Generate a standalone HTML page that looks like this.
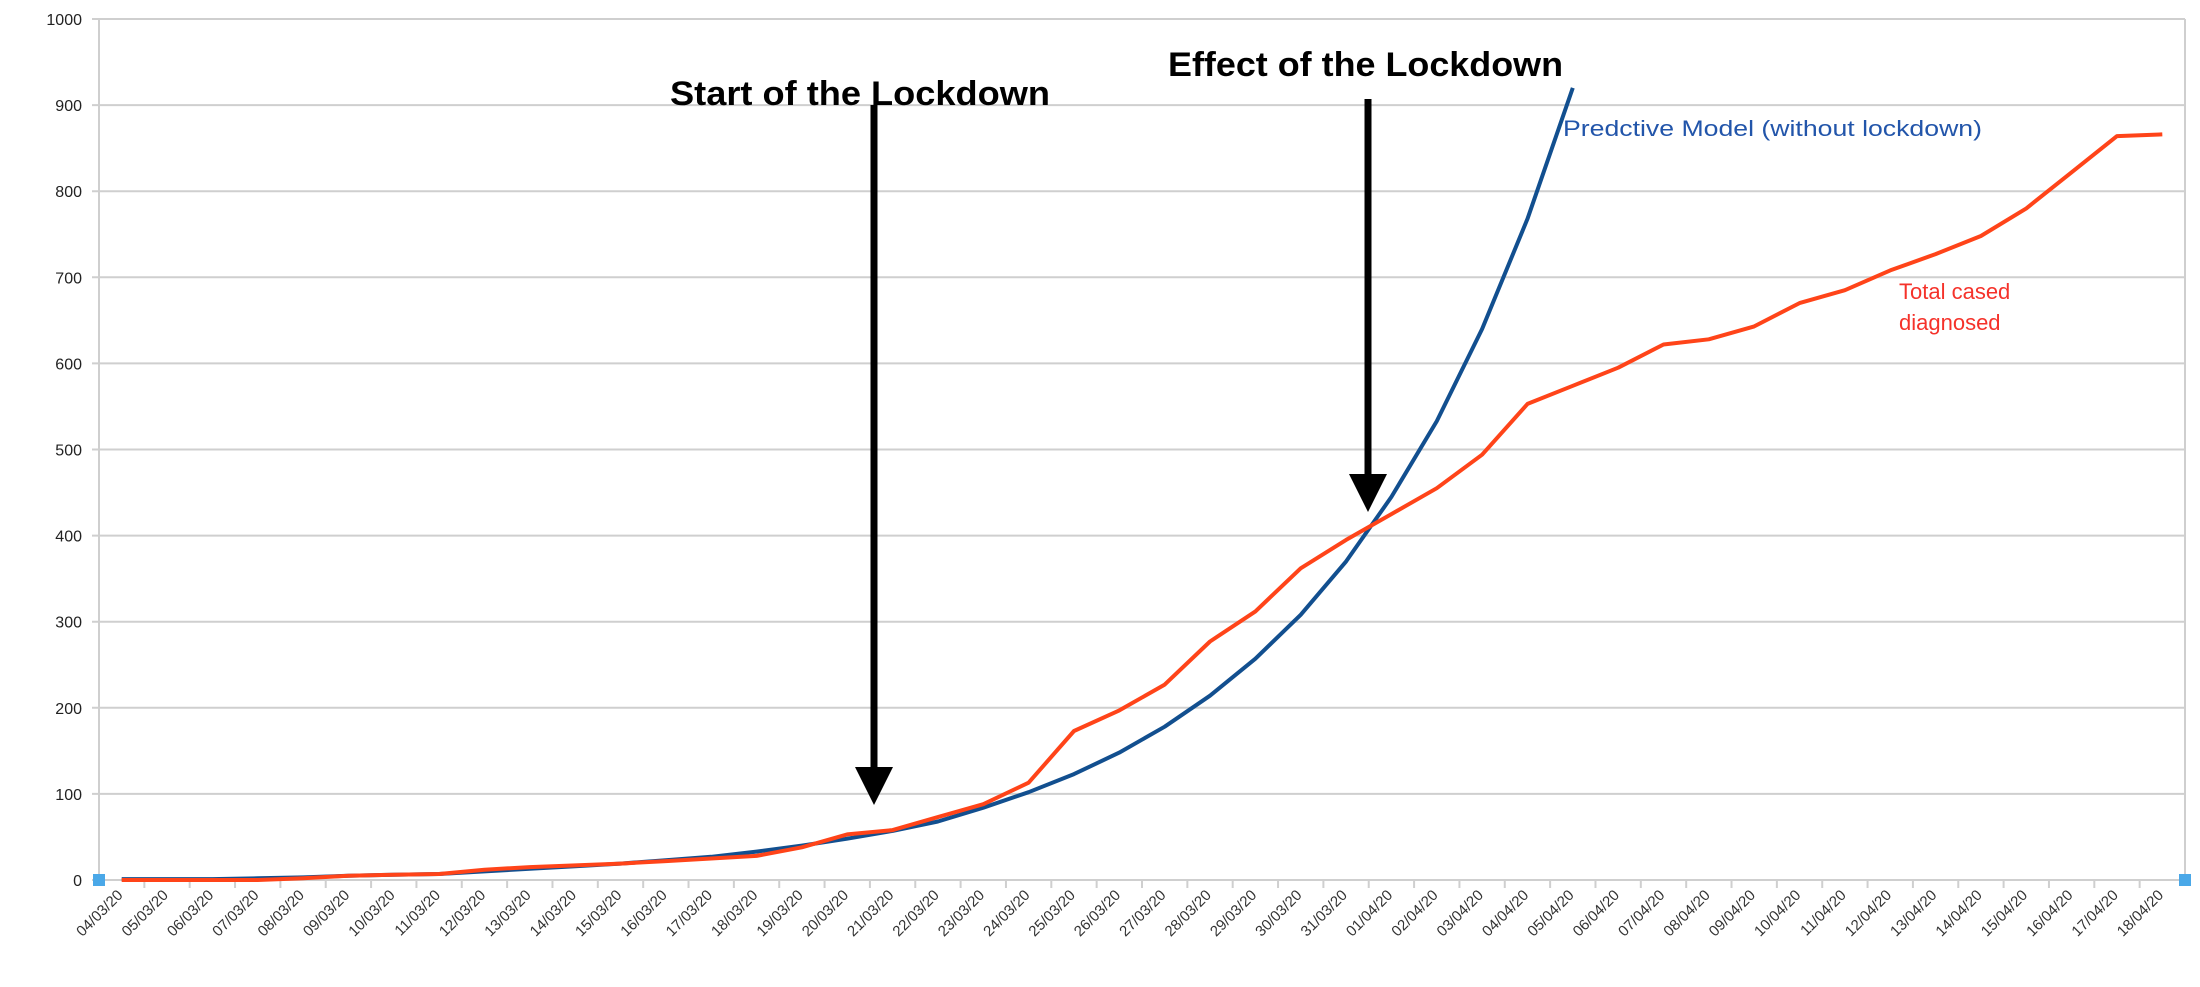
<!DOCTYPE html>
<html><head><meta charset="utf-8"><style>
html,body{margin:0;padding:0;background:#fff;}
svg{display:block;font-family:"Liberation Sans",Arial,sans-serif;}
</style></head><body>
<svg id="s" width="2200" height="987" viewBox="0 0 2200 987" xmlns="http://www.w3.org/2000/svg">
<g id="grid"></g>
<g id="xl" font-size="15" fill="#333"></g>
<g id="yl" font-size="16" fill="#222" text-anchor="end"></g>
<g id="series"></g>
<rect x="93" y="874" width="12" height="12" fill="#4aa8e8"/>
<rect x="2179" y="874" width="12" height="12" fill="#4aa8e8"/>
<text x="670" y="105" font-size="34" font-weight="bold" textLength="380" lengthAdjust="spacingAndGlyphs">Start of the Lockdown</text>
<text x="1168" y="76" font-size="34" font-weight="bold" textLength="395" lengthAdjust="spacingAndGlyphs">Effect of the Lockdown</text>
<rect x="870.5" y="105" width="7" height="665" fill="#000"/>
<polygon points="855,767 893,767 874,805" fill="#000"/>
<rect x="1364.5" y="99" width="7" height="378" fill="#000"/>
<polygon points="1349,474 1387,474 1368,512" fill="#000"/>
<text x="1563" y="136" font-size="22" fill="#2255aa" textLength="419" lengthAdjust="spacingAndGlyphs">Predctive Model (without lockdown)</text>
<text x="1899" y="299" font-size="22" fill="#f5322a">Total cased</text>
<text x="1899" y="330" font-size="22" fill="#f5322a">diagnosed</text>
</svg>
<script>
var NS="http://www.w3.org/2000/svg";
function el(p,t,a,txt){var e=document.createElementNS(NS,t);for(var k in a)e.setAttribute(k,a[k]);if(txt!==undefined)e.textContent=txt;p.appendChild(e);return e;}
var L=99,R=2185,Y0=880,Y1=19,N=46,W=(R-L)/N;
function X(i){return L+W*(i+0.5);}function Y(v){return Y0-(Y0-Y1)*v/1000;}
var g=document.getElementById('grid');
for(var v=0;v<=1000;v+=100){el(g,'line',{x1:L-7,x2:R,y1:Y(v),y2:Y(v),stroke:'#cfcfcf','stroke-width':2});
el(document.getElementById('yl'),'text',{x:82,y:Y(v)+6},String(v));}
el(g,'line',{x1:L,x2:L,y1:Y1,y2:Y0,stroke:'#cfcfcf','stroke-width':2});
el(g,'line',{x1:R,x2:R,y1:Y1,y2:Y0,stroke:'#cfcfcf','stroke-width':2});
for(var i=1;i<N;i++){var x=L+W*i;el(g,'line',{x1:x,x2:x,y1:Y0,y2:Y0+8,stroke:'#cfcfcf','stroke-width':2});}
var xl=document.getElementById('xl');
for(var i=0;i<N;i++){var d,m;if(i<28){d=i+4;m='03';}else{d=i-27;m='04';}
var s=(d<10?'0':'')+d+'/'+m+'/20';var cx=X(i)+2,cy=896;
el(xl,'text',{x:cx,y:cy,'text-anchor':'end',transform:'rotate(-45 '+cx+' '+cy+')'},s);}
var red=[0,0,0,0,2,5,6,7,12,15,17,19,22,25,28,38,53,58,73,88,113,173,197,227,277,312,362,395,425,455,494,553,574,595,622,628,643,670,685,708,727,748,780,822,864,866];
var blue=[1,1,1,2,3,5,6,7,10,13,16,19,23,27,33,40,48,57,68,84,102,123,148,178,214,257,308,370,445,533,640,768,920];
var sr=el(document.getElementById('series'),'g',{});
el(sr,'polyline',{points:blue.map(function(v,i){return X(i).toFixed(1)+','+Y(v).toFixed(1);}).join(' '),fill:'none',stroke:'#124f8f','stroke-width':4,'stroke-linejoin':'round'});
el(sr,'polyline',{points:red.map(function(v,i){return X(i).toFixed(1)+','+Y(v).toFixed(1);}).join(' '),fill:'none',stroke:'#ff4419','stroke-width':4,'stroke-linejoin':'round'});
</script>
</body></html>
